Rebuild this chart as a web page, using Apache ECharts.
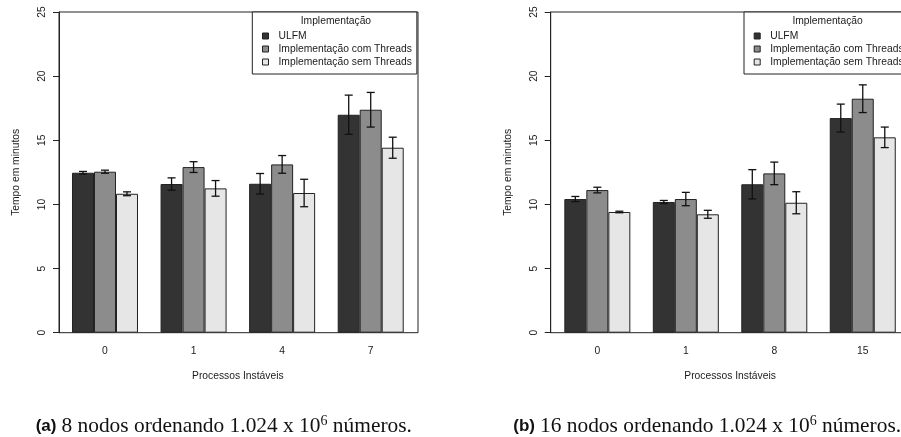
<!DOCTYPE html>
<html>
<head>
<meta charset="utf-8">
<script src="https://cdn.jsdelivr.net/npm/echarts@6/dist/echarts.min.js"></script>
<style>
  html, body { margin: 0; padding: 0; background: #fff; }
  #chart { width: 901px; height: 437px; }
</style>
</head>
<body>
<div id="chart"></div>
<script>
// ---------- data ----------
const seriesNames = ['ULFM', 'Implementação com Threads', 'Implementação sem Threads'];
const colors = ['#333333', '#8c8c8c', '#e6e6e6'];

// Panel (a): 8 nodos
const categoriesA = ['0', '1', '4', '7'];
const ulfmA = [12.47, 11.59, 11.61, 16.99];
const ulfmErrA = [0.10, 0.48, 0.80, 1.53];
const comThreadsA = [12.55, 12.91, 13.12, 17.38];
const comThreadsErrA = [0.12, 0.42, 0.69, 1.35];
const semThreadsA = [10.83, 11.25, 10.89, 14.42];
const semThreadsErrA = [0.15, 0.61, 1.07, 0.82];

// Panel (b): 16 nodos
const categoriesB = ['0', '1', '8', '15'];
const ulfmB = [10.42, 10.19, 11.57, 16.73];
const ulfmErrB = [0.20, 0.12, 1.14, 1.09];
const comThreadsB = [11.12, 10.42, 12.42, 18.24];
const comThreadsErrB = [0.22, 0.52, 0.88, 1.08];
const semThreadsB = [9.41, 9.23, 10.13, 15.23];
const semThreadsErrB = [0.06, 0.31, 0.86, 0.80];

const yTicksMin = 0, yTicksMax = 25, yTicksStep = 5;

// ---------- styling ----------
const FONT = 'Liberation Sans';
const TXT = '#1a1a1a';
const LINE = '#222';
const BAR_W = 22;
const FS = 10.3;

const panels = [
  { frameLeft: 59, dataLeft: 60.7, dataWidth: 354.3, legendLeft: 252.3, cats: categoriesA,
    vals: [ulfmA, comThreadsA, semThreadsA], errs: [ulfmErrA, comThreadsErrA, semThreadsErrA],
    captionLeft: 35.7, tag: '(a)', caption: '8 nodos ordenando 1.024 x 10' },
  { frameLeft: 550.7, dataLeft: 553.1, dataWidth: 353.9, legendLeft: 744, cats: categoriesB,
    vals: [ulfmB, comThreadsB, semThreadsB], errs: [ulfmErrB, comThreadsErrB, semThreadsErrB],
    captionLeft: 513.3, tag: '(b)', caption: '16 nodos ordenando 1.024 x 10' }
];

const TOP = 12, HEIGHT = 320.7, FRAME_W = 359;

const grid = [], xAxis = [], yAxis = [], series = [], legend = [], title = [], graphic = [];

panels.forEach((p, pi) => {
  const gFrame = pi * 2, gData = pi * 2 + 1;
  grid.push({ left: p.frameLeft, top: TOP, width: FRAME_W, height: HEIGHT, show: true,
              borderColor: LINE, borderWidth: 1, backgroundColor: 'transparent',
              containLabel: false, outerBoundsMode: 'none' });
  grid.push({ left: p.dataLeft, top: TOP, width: p.dataWidth, height: HEIGHT, show: false,
              containLabel: false, outerBoundsMode: 'none' });

  xAxis.push({ gridIndex: gFrame, type: 'value', min: 0, max: 1, show: false });
  xAxis.push({
    gridIndex: gData, type: 'category', data: p.cats, boundaryGap: true,
    axisLine: { show: false }, axisTick: { show: false }, splitLine: { show: false },
    axisLabel: { margin: 13, fontFamily: FONT, fontSize: FS, color: TXT },
    name: 'Processos Instáveis', nameLocation: 'middle', nameGap: 38,
    nameTextStyle: { fontFamily: FONT, fontSize: FS, color: TXT }
  });

  yAxis.push({
    gridIndex: gFrame, type: 'value', min: yTicksMin, max: yTicksMax, interval: yTicksStep,
    axisLine: { show: true, lineStyle: { color: LINE, width: 1 } },
    axisTick: { show: true, length: 6, lineStyle: { color: LINE, width: 1 } },
    splitLine: { show: false },
    axisLabel: { rotate: 90, margin: 12, fontFamily: FONT, fontSize: FS, color: TXT },
    name: 'Tempo em minutos', nameLocation: 'middle', nameRotate: 90, nameGap: 38,
    nameTextStyle: { fontFamily: FONT, fontSize: FS, color: TXT }
  });
  yAxis.push({ gridIndex: gData, type: 'value', min: yTicksMin, max: yTicksMax, show: false });

  p.vals.forEach((vals, si) => {
    series.push({
      type: 'bar', name: seriesNames[si], xAxisIndex: gData, yAxisIndex: gData,
      data: vals, barWidth: BAR_W, barGap: '0%',
      itemStyle: { color: colors[si], borderColor: LINE, borderWidth: 1 },
      emphasis: { disabled: true }, animation: false
    });
  });

  p.vals.forEach((vals, si) => {
    const errs = p.errs[si];
    const offset = (si - 1) * BAR_W;
    series.push({
      type: 'custom', name: 'err' + pi + '_' + si, xAxisIndex: gData, yAxisIndex: gData,
      data: vals.map((v, i) => [i, v, errs[i]]), z: 10, animation: false, silent: true,
      renderItem: function (params, api) {
        const x = api.coord([api.value(0), api.value(1)])[0] + offset;
        const hi = api.coord([api.value(0), api.value(1) + api.value(2)])[1];
        const lo = api.coord([api.value(0), api.value(1) - api.value(2)])[1];
        const cap = 4;
        const st = { stroke: '#111', lineWidth: 1.3 };
        return { type: 'group', children: [
          { type: 'line', shape: { x1: x, y1: hi, x2: x, y2: lo }, style: st },
          { type: 'line', shape: { x1: x - cap, y1: hi, x2: x + cap, y2: hi }, style: st },
          { type: 'line', shape: { x1: x - cap, y1: lo, x2: x + cap, y2: lo }, style: st }
        ]};
      }
    });
  });

  legend.push({
    show: true, orient: 'vertical', left: p.legendLeft, top: TOP,
    data: seriesNames, selectedMode: false,
    icon: 'rect', itemWidth: 6, itemHeight: 6, itemGap: 2,
    padding: [18.5, 5, 6.5, 9.7],
    borderColor: LINE, borderWidth: 1, borderRadius: 0, backgroundColor: '#fff',
    itemStyle: { borderColor: LINE, borderWidth: 1 },
    textStyle: { fontFamily: FONT, fontSize: FS, color: TXT, lineHeight: 11, padding: [0, 0, 0, 5] }
  });

  graphic.push({
    type: 'text', left: p.legendLeft + 82.4 - 34, top: TOP + 4,
    style: { text: 'Implementação', font: FS + 'px "' + FONT + '"', fill: TXT }, z: 100
  });

  title.push({
    left: p.captionLeft, top: 414, padding: 0,
    text: '{t|' + p.tag + '} {s|' + p.caption + '}{sup|6}{s| números.}',
    textStyle: {
      rich: {
        t: { fontFamily: FONT, fontWeight: 'bold', fontSize: 17, color: '#111', lineHeight: 24 },
        s: { fontFamily: 'Liberation Serif', fontWeight: 'normal', fontSize: 21.4, color: '#111', lineHeight: 24 },
        sup: { fontFamily: 'Liberation Serif', fontWeight: 'normal', fontSize: 14, color: '#111', lineHeight: 24, verticalAlign: 'top' }
      }
    }
  });
});

const chart = echarts.init(document.getElementById('chart'), null, { renderer: 'canvas' });
chart.setOption({
  animation: false,
  backgroundColor: '#fff',
  grid, xAxis, yAxis, series, legend, title, graphic
});
</script>
</body>
</html>
